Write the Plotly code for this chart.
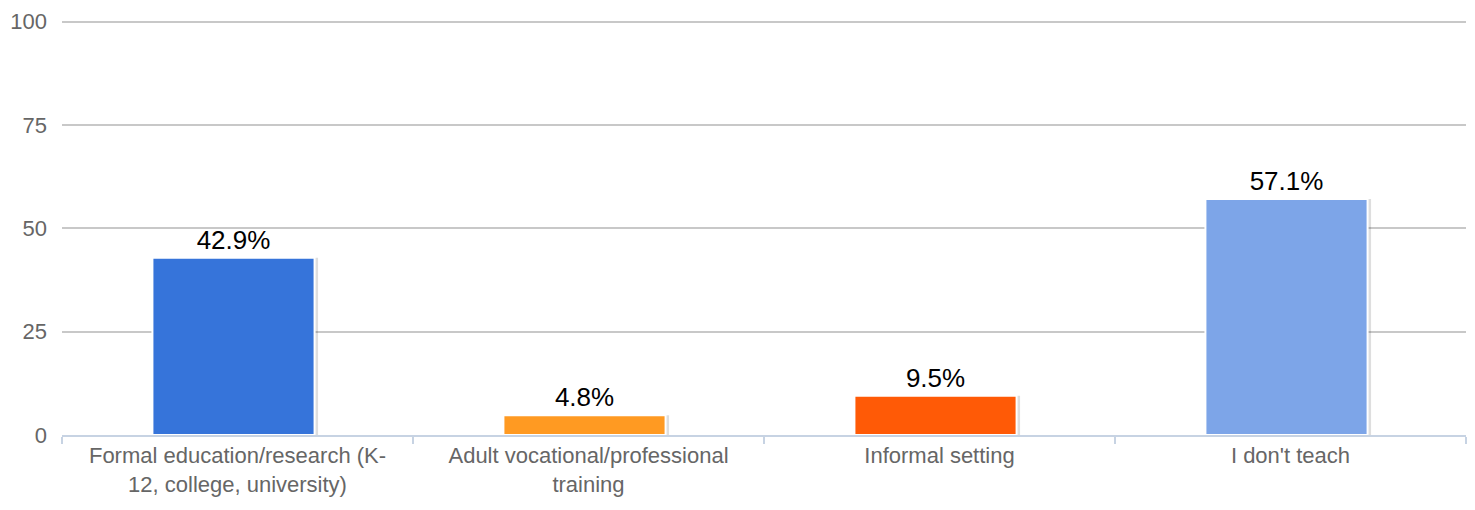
import plotly.graph_objects as go

# Survey responses: where respondents teach (percent of respondents)
categories = [
    "Formal education/research (K-<br>12, college, university)",
    "Adult vocational/professional<br>training",
    "Informal setting",
    "I don't teach",
]
values = [42.9, 4.8, 9.5, 57.1]
value_labels = ["42.9%", "4.8%", "9.5%", "57.1%"]
bar_colors = ["#3674da", "#ff9a22", "#ff5a06", "#7da5e8"]
y_ticks = [0, 25, 50, 75, 100]

W, H = 1475, 510
plot_left, plot_right = 62, 1466
band_px = (plot_right - plot_left) / len(categories)
bar_w = 0.462
nudge = -4 / band_px          # bars sit a few pixels left of band centre
px_x = 1 / band_px

fig = go.Figure()

# soft drop shadow behind each bar
fig.add_trace(go.Bar(
    x=categories, y=values,
    width=bar_w + 2 * px_x,
    offset=-bar_w / 2 + nudge + 1.5 * px_x,
    marker=dict(color="rgba(0,0,0,0.13)", line=dict(width=0)),
    hoverinfo="skip", showlegend=False,
))

fig.add_trace(go.Bar(
    x=categories, y=values,
    width=bar_w,
    offset=-bar_w / 2 + nudge,
    marker=dict(color=bar_colors, line=dict(color="white", width=2)),
    text=value_labels,
    textposition="outside",
    textfont=dict(family="Liberation Sans, Arial, sans-serif", size=26, color="#000000"),
    cliponaxis=False,
    showlegend=False,
))

fig.update_layout(
    width=W, height=H,
    margin=dict(l=plot_left, r=W - plot_right, t=15, b=75),
    paper_bgcolor="white", plot_bgcolor="white",
    barmode="overlay",
    font=dict(family="Liberation Sans, Arial, sans-serif", color="#666666"),
)

fig.update_xaxes(
    type="category",
    showgrid=False,
    showline=True, linecolor="#c7d3e3", linewidth=2,
    ticks="outside", tickson="boundaries", ticklen=7, tickwidth=2, tickcolor="#c7d3e3",
    tickfont=dict(size=22, color="#666666"),
    zeroline=False,
)

fig.update_yaxes(
    range=[0, 100.4],
    tickvals=y_ticks,
    showgrid=True, gridcolor="#c8c8c8", gridwidth=2,
    zeroline=False,
    showline=False,
    ticks="",
    ticklabelstandoff=14,
    tickfont=dict(size=22, color="#666666"),
)

fig.write_html("out.html")
